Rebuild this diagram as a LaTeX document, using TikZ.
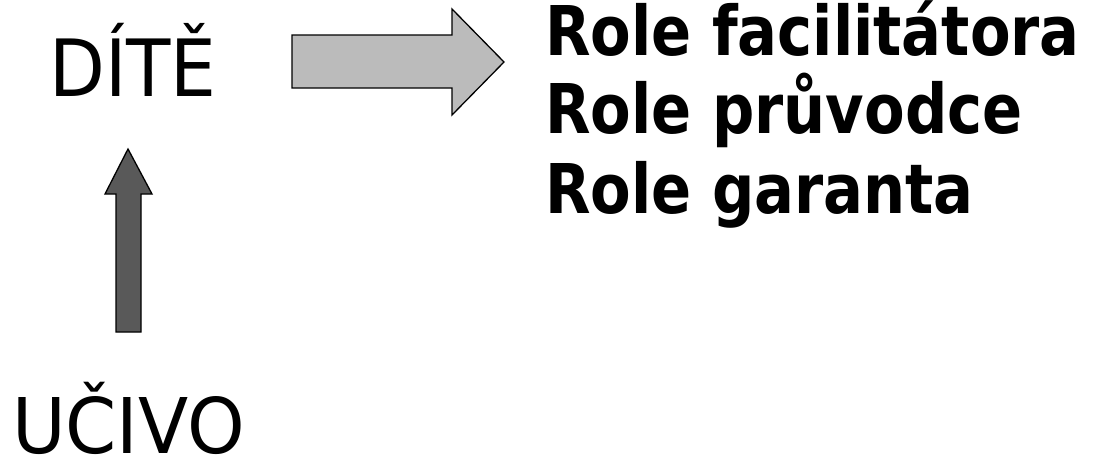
\documentclass[tikz,border=0pt]{standalone}
\usepackage{fontspec}
\newfontfamily\ditef[FakeStretch=1.02]{DejaVu Sans Condensed}
\newfontfamily\ucivof[FakeStretch=1.06]{DejaVu Sans Condensed}
\newfontfamily\boldf[FakeStretch=0.958]{DejaVu Sans Condensed Bold}
\definecolor{lightarrow}{HTML}{BBBBBB}
\definecolor{darkarrow}{HTML}{595959}
\begin{document}
\begin{tikzpicture}[x=1pt,y=-1pt,
  bigtext/.style={inner sep=0pt,anchor=base west},
  roletext/.style={inner sep=0pt,anchor=base west,font=\boldf\fontsize{68.6}{79}\selectfont},
  blockarrow/.style={draw=black,line width=1.3pt,line join=miter}]
\useasboundingbox (0,0) rectangle (1107,458);
\node[bigtext,font=\ditef\fontsize{79}{90}\selectfont] (dite) at (49,96) {DÍTĚ};
\node[bigtext,text depth=0pt,font=\ucivof\fontsize{76.8}{88}\selectfont] (ucivo) at (12,453.5) {UČIVO};
\node[roletext] (r1) at (545,55) {Role facilitátora};
\node[roletext] (r2) at (545,133) {Role průvodce};
\node[roletext] (r3) at (545,213) {Role garanta};
\draw[blockarrow,fill=lightarrow] (292,35) -- (452,35) -- (452,9) -- (504,62) -- (452,115) -- (452,88) -- (292,88) -- cycle;
\draw[blockarrow,fill=darkarrow] (116,332) -- (116,194) -- (105,194) -- (128,149) -- (152,194) -- (141,194) -- (141,332) -- cycle;
\end{tikzpicture}
\end{document}
